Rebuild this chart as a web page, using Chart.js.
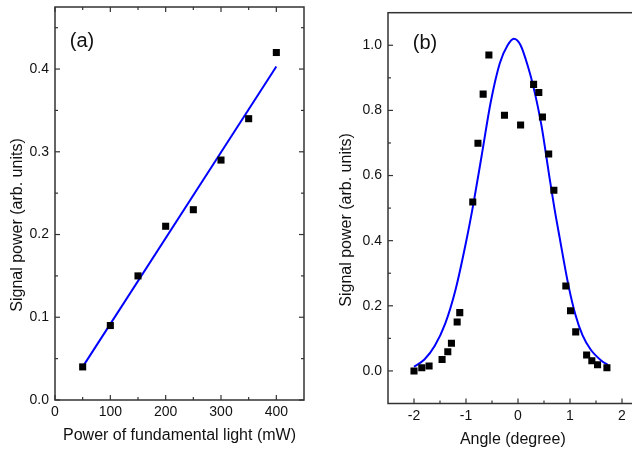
<!DOCTYPE html>
<html><head><meta charset="utf-8">
<script src="https://cdn.jsdelivr.net/npm/chart.js@4"></script>
<style>
html,body{margin:0;padding:0;background:#fff;overflow:hidden;width:632px;height:452px;position:relative;}
#wa{position:absolute;left:0;top:0;width:320px;height:452px;}
#wb{position:absolute;left:320px;top:0;width:330px;height:452px;}
canvas{display:block;}
</style></head><body>
<div id="wa"><canvas id="ca" width="320" height="452"></canvas></div>
<div id="wb"><canvas id="cb" width="330" height="452"></canvas></div>
<script>
// ---------- Panel (a) data ----------
const powerMW   = [50, 100, 150, 200, 250, 300, 350, 400];
const signalA   = [0.04, 0.09, 0.15, 0.21, 0.23, 0.29, 0.34, 0.42];
const fitPowerMW = [50, 400];
const fitSignalA = [0.040, 0.403];
const xTicksA = [0, 100, 200, 300, 400];
const xMinorA = [50, 150, 250, 350];
const yTicksA = [0.0, 0.1, 0.2, 0.3, 0.4];
const yMinorA = [0.05, 0.15, 0.25, 0.35, 0.45];

// ---------- Panel (b) data ----------
const angleDeg = [-2.0, -1.85, -1.71, -1.46, -1.35, -1.28, -1.17, -1.12, -0.87, -0.77, -0.67, -0.56, -0.26,
                  0.05, 0.30, 0.40, 0.47, 0.59, 0.69, 0.92, 1.01, 1.11, 1.32, 1.42, 1.53, 1.71];
const signalB  = [0.0, 0.010, 0.015, 0.035, 0.059, 0.085, 0.150, 0.179, 0.519, 0.699, 0.850, 0.970, 0.785,
                  0.755, 0.880, 0.855, 0.780, 0.666, 0.555, 0.261, 0.185, 0.120, 0.049, 0.031, 0.019, 0.010];
const fitAngle   = [-2.0, -1.8, -1.6, -1.4, -1.2, -1.0, -0.85, -0.7, -0.525, -0.35, -0.2, -0.08,
                    0.05, 0.2, 0.3, 0.45, 0.6, 0.7, 0.8, 0.967, 1.1, 1.24, 1.4, 1.6, 1.73];
const fitSignalB = [0.013, 0.035, 0.077, 0.145, 0.25, 0.395, 0.52, 0.66, 0.825, 0.945, 1.0, 1.02,
                    1.0, 0.93, 0.87, 0.755, 0.6, 0.5, 0.41, 0.265, 0.175, 0.11, 0.065, 0.032, 0.018];
const xTicksB = [-2, -1, 0, 1, 2];
const xMinorB = [-1.5, -0.5, 0.5, 1.5];
const yTicksB = [0.0, 0.2, 0.4, 0.6, 0.8, 1.0];
const yMinorB = [0.1, 0.3, 0.5, 0.7, 0.9];

const FONT = '"Liberation Sans", Arial, sans-serif';
const TXT = '#111';
const AXC = '#333';

function pts(xs, ys){ return xs.map((x,i)=>({x:x, y:ys[i]})); }

function framePlugin(cfg){
  return {
    id: 'frame_' + cfg.name,
    beforeDatasetsDraw(chart){
      const {ctx, chartArea:a, scales} = chart;
      const x = scales.x, y = scales.y;
      ctx.save();
      ctx.strokeStyle = AXC;
      ctx.lineWidth = 1.5;
      ctx.strokeRect(a.left, a.top, a.right - a.left, a.bottom - a.top);
      ctx.lineWidth = 1.2;
      const xt = (vals, len) => vals.forEach(v => {
        const px = x.getPixelForValue(v);
        ctx.beginPath(); ctx.moveTo(px, a.bottom); ctx.lineTo(px, a.bottom - len); ctx.stroke();
        if (cfg.mirror){ ctx.beginPath(); ctx.moveTo(px, a.top); ctx.lineTo(px, a.top + len); ctx.stroke(); }
      });
      const yt = (vals, len) => vals.forEach(v => {
        const py = y.getPixelForValue(v);
        ctx.beginPath(); ctx.moveTo(a.left, py); ctx.lineTo(a.left + len, py); ctx.stroke();
        if (cfg.mirror){ ctx.beginPath(); ctx.moveTo(a.right, py); ctx.lineTo(a.right - len, py); ctx.stroke(); }
      });
      xt(cfg.xMajor, 5); xt(cfg.xMinor, 3);
      yt(cfg.yMajor, 5); yt(cfg.yMinor, 3);
      ctx.restore();
    },
    afterDraw(chart){
      const ctx = chart.ctx;
      ctx.save();
      ctx.fillStyle = TXT;
      ctx.textAlign = 'center';
      ctx.textBaseline = 'middle';
      ctx.font = '20px ' + FONT;
      ctx.fillText(cfg.label, cfg.labelX, cfg.labelY);
      ctx.translate(cfg.yTitleX, cfg.yTitleY);
      ctx.rotate(-Math.PI/2);
      ctx.font = '16px ' + FONT;
      ctx.fillText(cfg.yTitle, 0, 0);
      ctx.restore();
    }
  };
}

function makeChart(id, cfg){
  return new Chart(document.getElementById(id), {
    type: 'scatter',
    data: { datasets: [
      { data: pts(cfg.px, cfg.py), pointStyle: 'rect', pointRadius: 5, pointHoverRadius: 5,
        backgroundColor: '#000', borderColor: '#000', borderWidth: 0, showLine: false, order: 0 },
      { data: pts(cfg.fx, cfg.fy), showLine: true, pointRadius: 0, borderColor: '#0000ff', borderWidth: 2,
        cubicInterpolationMode: 'monotone', fill: false, order: 1 }
    ]},
    options: {
      responsive: false, animation: false, devicePixelRatio: 1,
      layout: { padding: cfg.padding },
      plugins: { legend: {display:false}, tooltip: {enabled:false} },
      scales: {
        x: {
          type: 'linear', min: cfg.xmin, max: cfg.xmax,
          grid: { display: false, drawTicks: false }, border: { display: false },
          afterBuildTicks: s => { s.ticks = cfg.xMajor.map(v => ({value: v})); },
          afterFit: s => { s.height = cfg.xHeight; s.paddingLeft = 0; s.paddingRight = 0; s.paddingTop = 0; s.paddingBottom = 0; },
          ticks: { color: TXT, font: {family: FONT, size: 14}, padding: 4, maxRotation: 0,
                   callback: v => String(v) },
          title: { display: true, text: cfg.xTitle, color: TXT, font: {family: FONT, size: 16},
                   padding: {top: 0, bottom: cfg.xTitlePad} }
        },
        y: {
          type: 'linear', min: cfg.ymin, max: cfg.ymax,
          grid: { display: false, drawTicks: false }, border: { display: false },
          afterBuildTicks: s => { s.ticks = cfg.yMajor.map(v => ({value: v})); },
          afterFit: s => { s.width = cfg.yWidth; s.paddingLeft = 0; s.paddingRight = 0; s.paddingTop = 0; s.paddingBottom = 0; },
          ticks: { color: TXT, font: {family: FONT, size: 14}, padding: 6,
                   callback: v => Number(v).toFixed(1) }
        }
      }
    },
    plugins: [framePlugin(cfg)]
  });
}

makeChart('ca', {
  name: 'a', px: powerMW, py: signalA, fx: fitPowerMW, fy: fitSignalA,
  xmin: 0, xmax: 450, ymin: 0, ymax: 0.475,
  xMajor: xTicksA, xMinor: xMinorA, yMajor: yTicksA, yMinor: yMinorA, mirror: true,
  padding: {left: 0, right: 16, top: 7, bottom: 0},
  xHeight: 52, yWidth: 55, xTitlePad: 7,
  xTitle: 'Power of fundamental light (mW)', yTitle: 'Signal power (arb. units)',
  yTitleX: 18, yTitleY: 225, label: '(a)', labelX: 82, labelY: 41
});

makeChart('cb', {
  name: 'b', px: angleDeg, py: signalB, fx: fitAngle, fy: fitSignalB,
  xmin: -2.5, xmax: 2.3, ymin: -0.1, ymax: 1.1,
  xMajor: xTicksB, xMinor: xMinorB, yMajor: yTicksB, yMinor: yMinorB, mirror: false,
  padding: {left: 0, right: 12.4, top: 12.7, bottom: 0},
  xHeight: 48.5, yWidth: 68, xTitlePad: 2.5,
  xTitle: 'Angle (degree)', yTitle: 'Signal power (arb. units)',
  yTitleX: 27, yTitleY: 220, label: '(b)', labelX: 105, labelY: 43
});
</script>
</body></html>
